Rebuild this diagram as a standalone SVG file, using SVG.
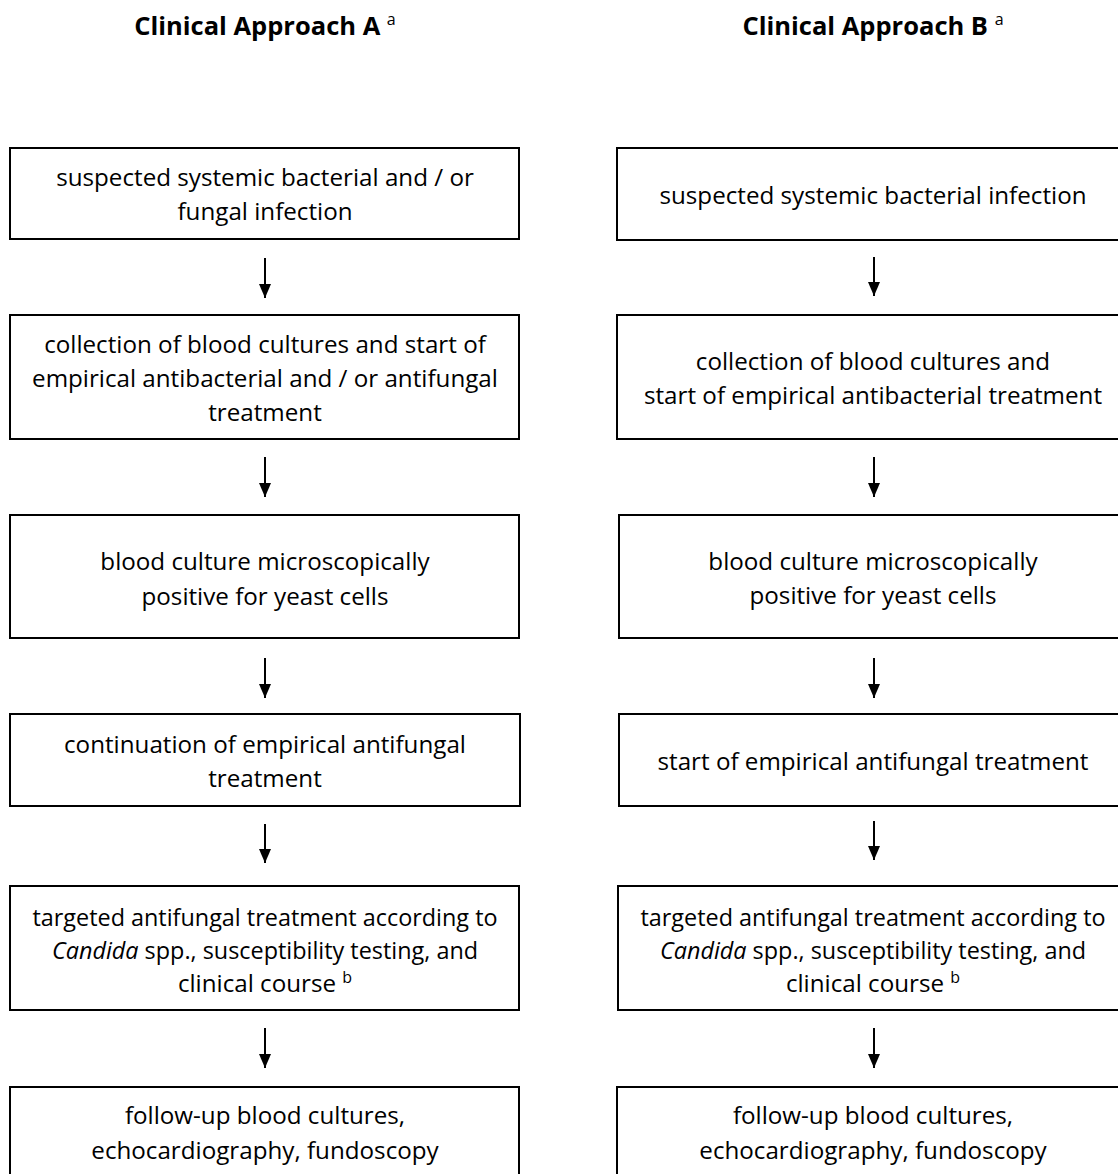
<svg xmlns="http://www.w3.org/2000/svg" width="1118" height="1174" viewBox="0 0 1118 1174">
<defs>
<marker id="ah" viewBox="0 0 14 12" refX="14" refY="6" markerWidth="14" markerHeight="12" markerUnits="userSpaceOnUse" orient="auto">
<path d="M0,0 L14,6 L0,12 Z" fill="#000"/>
</marker>
</defs>
<style>
.box{fill:#fff;stroke:#000;stroke-width:2}
.t{font-family:"Open Sans","Liberation Sans",sans-serif;font-size:24.2px;fill:#000;text-anchor:middle}
.s{font-size:23.4px}
.h{font-family:"Open Sans","Liberation Sans",sans-serif;font-size:25.5px;font-weight:bold;fill:#000;text-anchor:middle}
.sup{font-size:16px;font-weight:normal}
.c{stroke:#000;stroke-width:2;fill:none}
</style>
<rect width="1118" height="1174" fill="#fff"/>
<g id="titleA"><text class="h" x="265" y="35">Clinical Approach A <tspan class="sup" dy="-10">a</tspan></text></g>
<g id="titleB"><text class="h" x="873" y="35">Clinical Approach B <tspan class="sup" dy="-10">a</tspan></text></g>

<g id="a1"><rect class="box" x="10" y="148" width="509" height="91"/>
<text class="t" x="265" y="186">suspected systemic bacterial and / or</text>
<text class="t" x="265" y="220">fungal infection</text></g>
<g id="a2"><rect class="box" x="10" y="315" width="509" height="124"/>
<text class="t" x="265" y="353">collection of blood cultures and start of</text>
<text class="t" x="265" y="387">empirical antibacterial and / or antifungal</text>
<text class="t" x="265" y="421">treatment</text></g>
<g id="a3"><rect class="box" x="10" y="515" width="509" height="123"/>
<text class="t" x="265" y="570">blood culture microscopically</text>
<text class="t" x="265" y="605">positive for yeast cells</text></g>
<g id="a4"><rect class="box" x="10" y="714" width="510" height="92"/>
<text class="t" x="265" y="753">continuation of empirical antifungal</text>
<text class="t" x="265" y="787">treatment</text></g>
<g id="a5"><rect class="box" x="10" y="886" width="509" height="124"/>
<text class="t s" x="265" y="926">targeted antifungal treatment according to</text>
<text class="t s" x="265" y="959"><tspan font-style="italic">Candida</tspan> spp., susceptibility testing, and</text>
<text class="t" x="265" y="992">clinical course <tspan class="sup" dy="-9">b</tspan></text></g>
<g id="a6"><rect class="box" x="10" y="1087" width="509" height="100"/>
<text class="t" x="265" y="1124">follow-up blood cultures,</text>
<text class="t" x="265" y="1159">echocardiography, fundoscopy</text></g>

<g id="b1"><rect class="box" x="617" y="148" width="510" height="92"/>
<text class="t" x="873" y="204">suspected systemic bacterial infection</text></g>
<g id="b2"><rect class="box" x="617" y="315" width="510" height="124"/>
<text class="t" x="873" y="370">collection of blood cultures and</text>
<text class="t" x="873" y="404">start of empirical antibacterial treatment</text></g>
<g id="b3"><rect class="box" x="619" y="515" width="508" height="123"/>
<text class="t" x="873" y="570">blood culture microscopically</text>
<text class="t" x="873" y="604">positive for yeast cells</text></g>
<g id="b4"><rect class="box" x="619" y="714" width="508" height="92"/>
<text class="t" x="873" y="770">start of empirical antifungal treatment</text></g>
<g id="b5"><rect class="box" x="618" y="886" width="509" height="124"/>
<text class="t s" x="873" y="926">targeted antifungal treatment according to</text>
<text class="t s" x="873" y="959"><tspan font-style="italic">Candida</tspan> spp., susceptibility testing, and</text>
<text class="t" x="873" y="992">clinical course <tspan class="sup" dy="-9">b</tspan></text></g>
<g id="b6"><rect class="box" x="617" y="1087" width="510" height="100"/>
<text class="t" x="873" y="1124">follow-up blood cultures,</text>
<text class="t" x="873" y="1159">echocardiography, fundoscopy</text></g>

<g id="connectors">
<line class="c" x1="265" y1="258" x2="265" y2="298" marker-end="url(#ah)"/>
<line class="c" x1="265" y1="457" x2="265" y2="497" marker-end="url(#ah)"/>
<line class="c" x1="265" y1="658" x2="265" y2="698" marker-end="url(#ah)"/>
<line class="c" x1="265" y1="824" x2="265" y2="863" marker-end="url(#ah)"/>
<line class="c" x1="265" y1="1028" x2="265" y2="1068" marker-end="url(#ah)"/>
<line class="c" x1="874" y1="257" x2="874" y2="296" marker-end="url(#ah)"/>
<line class="c" x1="874" y1="457" x2="874" y2="497" marker-end="url(#ah)"/>
<line class="c" x1="874" y1="658" x2="874" y2="698" marker-end="url(#ah)"/>
<line class="c" x1="874" y1="821" x2="874" y2="860" marker-end="url(#ah)"/>
<line class="c" x1="874" y1="1028" x2="874" y2="1068" marker-end="url(#ah)"/>
</g>
</svg>
